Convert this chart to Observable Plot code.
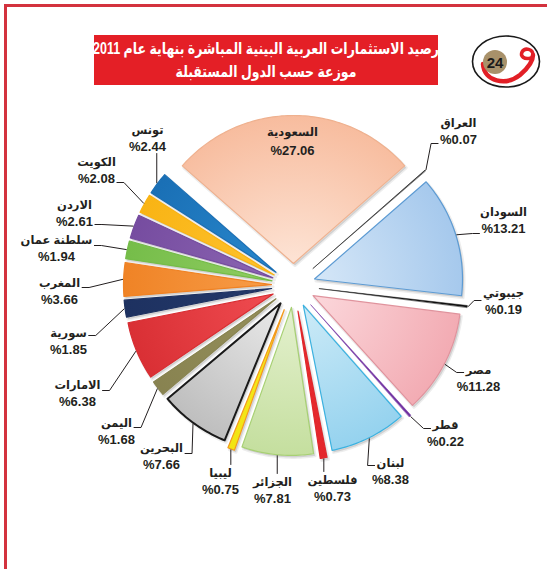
<!DOCTYPE html>
<html><head><meta charset="utf-8">
<script src="https://cdn.jsdelivr.net/npm/d3@7"></script>
<script src="https://cdn.jsdelivr.net/npm/@observablehq/plot@0.6"></script>
<style>
html,body{margin:0;padding:0;background:#fff;}
#page{position:relative;width:547px;height:569px;overflow:hidden;}
#frame{position:absolute;left:4px;top:4px;width:600px;height:600px;border-left:3px solid #d3323e;border-top:3px solid #d3323e;pointer-events:none;}
#header{position:relative;height:95px;}
#title{position:absolute;left:94px;top:35px;width:344px;height:50px;background:#e41f26;overflow:hidden;}
#title div{color:#fff;font:bold 16px 'Liberation Sans','DejaVu Sans',sans-serif;text-align:center;direction:rtl;line-height:23px;padding-top:2px;white-space:nowrap;width:480px;margin-left:-68px;transform:scaleX(0.78);transform-origin:center;}
#logo{position:absolute;left:468px;top:32px;}
#chart{position:absolute;left:0;top:95px;}
</style></head>
<body>
<div id="page">
  <div id="header">
    <div id="title"><div>رصيد الاستثمارات العربية البينية المباشرة بنهاية عام 2011<br>موزعة حسب الدول المستقبلة</div></div>
    <svg id="logo" width="76" height="60" viewBox="468 32 76 60">
      <ellipse cx="506" cy="61.5" rx="33.5" ry="25.5" fill="#fff" stroke="#1a1a1a" stroke-width="1.6"/>
      <path d="M483 64 C 484 82, 506 86, 520 75 C 527 69, 533 61, 533 55" fill="none" stroke="#e21f26" stroke-width="4.5" stroke-linecap="round"/>
      <path d="M533 55 C 533 49, 525 47, 522 52 C 520 56, 524 60, 531 58" fill="none" stroke="#e21f26" stroke-width="3.5" stroke-linecap="round"/>
      <circle cx="495" cy="62" r="12" fill="#a8916a"/>
      <text x="495" y="67.5" text-anchor="middle" font-family="Liberation Sans, Arial, sans-serif" font-weight="bold" font-size="15" fill="#1a1a1a">24</text>
    </svg>
  </div>
  <div id="chart"></div>
  <div id="frame"></div>
</div>
<script>
// ---- data ----
const countries = ["السعودية","العراق","السودان","جيبوتي","مصر","قطر","لبنان","فلسطين","الجزائر","ليبيا","البحرين","اليمن","الامارات","سورية","المغرب","سلطنة عمان","الاردن","الكويت","تونس"];
const shares = [27.06,0.07,13.21,0.19,11.28,0.22,8.38,0.73,7.81,0.75,7.66,1.68,6.38,1.85,3.66,1.94,2.61,2.08,2.44];

// ---- styles ----
const fillInner = ["#fde2d3","#111111","#d4e6f7","#111111","#fbd6da","#7030a0","#cbeaf7","#ea2b30","#e3f0cd","#f5ea1e","#e8e8e8","#958f5a","#ef4b50","#24396a","#f79b47","#8fcc61","#8a64b1","#fdc22e","#2887cc"];
const fillOuter = ["#f7ba9b","#111111","#a3c7ec","#111111","#f2a9b1","#7030a0","#92d1ee","#e3262b","#c3de9c","#f2e412","#bcbcbc","#878250","#d82e33","#1d3160","#ef8224","#74bc48","#754b9f","#f9b313","#196eb4"];
const strokes   = ["#efb18f","#111111","#5d9bd3","#111111","#e0939d","#7030a0","#3cb2e0","#e0262b","#a7d073","#f39a1e","#1a1a1a","#878250","#d82e33","#1d3160","#ef8224","#74bc48","#754b9f","#f9b313","#196eb4"];
const strokeW   = shares.map((v, i) => i === 10 ? 2 : v < 0.5 ? 0.5 : 1.2);

// ---- layout ----
const W = 547, H = 474, CX = 293, CY = 190;
const explode = shares.map(v => v < 1 ? 26 : 22);
const radius  = shares.map(v => v < 1 ? 149 : 148);
// name-line centre offsets from pie centre
const labelOffset = [[-1,-153],[165,-162],[210,-73],[210,8],[185,85],[152,140],[97,178],[39,195],[-21,197],[-73,188],[-132,163],[-177,138],[-216,100],[-225,48],[-234,-2],[-237,-45],[-219,-80],[-197,-123],[-146,-155]];
const pctGap = countries.map((c, i) => i === 0 ? 18 : 16);
// leader: side (L/R/V), attach dy from name line, row used for width
const leaderSpec = [null,["R",20,1],["R",21,1],["R",7,0],["R",2,0],["R",3,0],["R",2,0],["V"],["V"],["V"],["L",5,0],["L",4,0],["L",5,0],["L",2,0],["L",4,0],["L",5,0],["L",19,1],["L",20,1],["V"]];

const FONT = "'Liberation Sans','DejaVu Sans',sans-serif";
const nameSize = 11.5, pctSize = 13;
const ctx = document.createElement("canvas").getContext("2d");
function textW(t, size) { ctx.font = `bold ${size}px ${FONT}`; return ctx.measureText(t).width; }

const start = -Math.PI * shares[0] / 100;
const arcs = d3.pie().sort(null).startAngle(start).endAngle(start + 2 * Math.PI)(shares);
const polar = (a, r) => [r * Math.sin(a), -r * Math.cos(a)];

const slices = [];
const leaderPts = [];
const labels = [];
arcs.forEach((arc, i) => {
  const a0 = arc.startAngle, a1 = arc.endAngle, m = (a0 + a1) / 2;
  const e = explode[i], R = radius[i];
  const [ax, ay] = polar(m, e);
  const pts = [{x: ax, y: ay}];
  const n = Math.max(2, Math.ceil((a1 - a0) / 0.02));
  for (let j = 0; j <= n; j++) {
    const t = a0 + (a1 - a0) * j / n;
    const [px, py] = polar(t, R);
    pts.push({x: ax + px, y: ay + py});
  }
  slices.push(pts);
  const [lx, ly] = labelOffset[i];
  const pct = "%" + shares[i].toFixed(2);
  labels.push({name: countries[i], pct, x: lx, y: ly, y2: ly + pctGap[i]});
  const spec = leaderSpec[i];
  if (!spec) return;
  const [rx, ry] = polar(m, e + R + 1);
  if (spec[0] === "V") {
    const endY = ly > ry ? ly - 9 : ly + pctGap[i] + 7;
    leaderPts.push({k: i, x: rx, y: ry}, {k: i, x: rx, y: endY});
  } else {
    const w = spec[2] ? textW(pct, pctSize) : textW(countries[i], nameSize);
    const sgn = spec[0] === "L" ? 1 : -1;
    const tx = lx + sgn * (w / 2 + 2), ty = ly + spec[1];
    leaderPts.push({k: i, x: rx, y: ry}, {k: i, x: tx + sgn * 7, y: ty}, {k: i, x: tx, y: ty});
  }
});

const chart = Plot.plot({
  width: W, height: H, margin: 0,
  x: {domain: [-CX, W - CX], range: [0, W], axis: null},
  y: {domain: [-CY, H - CY], range: [0, H], axis: null},
  style: {fontFamily: FONT, background: "transparent", overflow: "visible"},
  marks: [
    ...slices.map((pts, i) => Plot.line(pts, {x: "x", y: "y", fill: "#000", fillOpacity: shares[i] < 0.5 ? 0 : 0.12, stroke: "#000", strokeOpacity: shares[i] < 0.5 ? 0 : 0.07, strokeWidth: 3, dx: 1.5, dy: 2, curve: "linear-closed"})),
    ...slices.map((pts, i) => Plot.line(pts, {x: "x", y: "y", fill: fillOuter[i], stroke: strokes[i], strokeWidth: strokeW[i], curve: "linear-closed"})),
    Plot.line(leaderPts, {x: "x", y: "y", z: "k", stroke: "#231f20", strokeWidth: 1, curve: "linear"}),
    Plot.text(labels, {x: "x", y: "y", text: "name", fontSize: nameSize, fontWeight: "bold", fill: "#231f20"}),
    Plot.text(labels, {x: "x", y: "y2", text: "pct", fontSize: pctSize, fontWeight: "bold", fill: "#231f20"})
  ]
});

// radial gradients on the slices (the second group of 19 line marks)
const gx = chart.scale("x").apply(0), gy = chart.scale("y").apply(0);
const defs = d3.select(chart).insert("defs", ":first-child");
const lineGroups = chart.querySelectorAll('g[aria-label="line"]');
arcs.forEach((arc, i) => {
  const g = defs.append("radialGradient").attr("id", `grad${i}`).attr("gradientUnits", "userSpaceOnUse")
    .attr("cx", gx).attr("cy", gy).attr("r", 178);
  g.append("stop").attr("offset", "0.15").attr("stop-color", fillInner[i]);
  g.append("stop").attr("offset", "1").attr("stop-color", fillOuter[i]);
  const grp = lineGroups[arcs.length + i];
  if (grp) grp.setAttribute("fill", `url(#grad${i}) ${fillOuter[i]}`);
});

document.getElementById("chart").appendChild(chart);
</script>
</body></html>
